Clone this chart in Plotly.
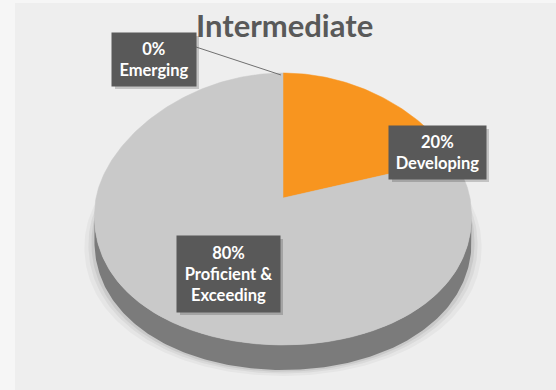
import numpy as np
import plotly.graph_objects as go

# ---- data ----
categories = ["Emerging", "Developing", "Proficient &<br>Exceeding"]
values = [0, 20, 80]
slice_colors = ["#4f81bd", "#f8951f", "#c9c9c9"]
title_text = "Intermediate"

# ---- tilted-pie geometry (pixel space) ----
W, H = 556, 390
CX, CY = 283, 198          # pie centre on screen
RX = 187                   # horizontal radius
RY_BACK, RY_FRONT = 125, 147   # foreshortened radii (back / front)
TAPER = 0.13               # perspective narrowing towards the back
DEPTH = 25                 # thickness of the pie edge


def project(t):
    """Map an angle on the pie rim (radians, CCW from 3 o'clock) to screen."""
    t = np.asarray(t, dtype=float)
    s, c = np.sin(t), np.cos(t)
    x = CX + RX * c * (1 - TAPER * s)
    y = CY - np.where(s > 0, RY_BACK, RY_FRONT) * s
    return x, y


fig = go.Figure()

# soft shadow under the pie
for k, op in [(10, 0.035), (6, 0.05), (3, 0.07)]:
    sx, sy = project(np.linspace(0, 2 * np.pi, 300))
    fig.add_trace(go.Scatter(
        x=list(CX + (sx - CX) * (1 + k / RX)), y=list(sy + DEPTH + k * 0.6),
        mode="lines", fill="toself", line=dict(width=0),
        fillcolor=f"rgba(0,0,0,{op})", hoverinfo="skip", showlegend=False))

# pie edge (visible front part of the rim)
grid = np.linspace(np.pi, 2 * np.pi, 721)
gx, _ = project(grid)
t_left, t_right = grid[np.argmin(gx)], grid[np.argmax(gx)]
rim = np.linspace(t_left, t_right, 200)
rx_, ry_ = project(rim)
fig.add_trace(go.Scatter(
    x=list(rx_) + list(rx_[::-1]),
    y=list(ry_) + list((ry_ + DEPTH)[::-1]),
    mode="lines", fill="toself", line=dict(width=0),
    fillcolor="#7b7b7b", hoverinfo="skip", showlegend=False))

# top face: one wedge per category, clockwise from 12 o'clock
total = sum(values)
cum = 0.0
mid_angles = []
for name, v, col in zip(categories, values, slice_colors):
    a0 = cum / total * 2 * np.pi
    a1 = (cum + v) / total * 2 * np.pi
    mid_angles.append((a0 + a1) / 2)
    cum += v
    if v == 0:
        continue
    ts = np.pi / 2 - np.linspace(a0, a1, max(int(v * 4), 20))
    px, py = project(ts)
    fig.add_trace(go.Scatter(
        x=[CX] + list(px) + [CX], y=[CY] + list(py) + [CY],
        mode="lines", fill="toself", line=dict(width=0.5, color=col),
        fillcolor=col, name=name.replace("<br>", " "),
        hoverinfo="name", showlegend=False))

# ---- data labels ----
label_boxes = [  # centre x, centre y, width, height
    (154, 59.5, 78, 47),
    (437.5, 152.5, 91, 47),
    (228.5, 274, 97, 70),
]
shapes = []
annotations = []
for name, v, (bx, by, bw, bh) in zip(categories, values, label_boxes):
    pct = round(v / total * 100)
    pad = 3
    shapes.append(dict(
        type="rect", xref="x", yref="y",
        x0=bx - bw / 2 - pad + 3, x1=bx + bw / 2 + pad + 3,
        y0=by - bh / 2 - pad + 3, y1=by + bh / 2 + pad + 3,
        fillcolor="rgba(0,0,0,0.18)", line=dict(width=0)))
    annotations.append(dict(
        x=bx, y=by, xref="x", yref="y", showarrow=False,
        text=f"<b>{pct}%<br>{name}</b>", width=bw, height=bh,
        align="center", valign="middle", bgcolor="#595959", borderpad=pad,
        font=dict(family="Lato, 'Open Sans', sans-serif", size=16.5, color="#ffffff")))

# leader line for the zero-size wedge
ex, ey = project(np.pi / 2 - mid_angles[0])
shapes.append(dict(type="line", xref="x", yref="y",
                   x0=196, y0=47, x1=float(ex) - 2, y1=float(ey) + 2,
                   line=dict(color="#6f6f6f", width=1)))

# plot-area background
shapes.insert(0, dict(type="rect", xref="x", yref="y", x0=15, x1=W, y0=3, y1=H,
                      fillcolor="#eeeeee", line=dict(width=0), layer="below"))

annotations.append(dict(
    x=284, y=25, xref="x", yref="y", showarrow=False,
    text=f"<b>{title_text}</b>",
    font=dict(family="Lato, 'Open Sans', sans-serif", size=31, color="#595959")))

fig.update_layout(
    width=W, height=H, autosize=False,
    margin=dict(l=0, r=0, t=0, b=0),
    paper_bgcolor="#f6f6f6", plot_bgcolor="rgba(0,0,0,0)",
    xaxis=dict(range=[0, W], visible=False, fixedrange=True),
    yaxis=dict(range=[H, 0], visible=False, fixedrange=True),
    shapes=shapes, annotations=annotations,
)

fig.write_html("out.html")
